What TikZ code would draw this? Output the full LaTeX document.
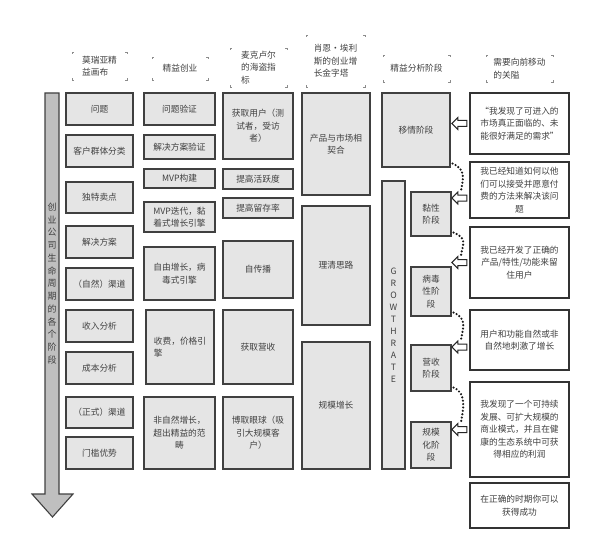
\documentclass[tikz,border=0pt]{standalone}
\usepackage{fontspec}
\setmainfont{Noto Sans CJK SC}
\usetikzlibrary{shapes.arrows}

\begin{document}
\begin{tikzpicture}[x=1pt,y=-1pt,
    cell/.style={draw=black!75,fill=black!10,line width=1.1pt,inner sep=2pt,
      align=center,text=black!75,font=\fontsize{8.7}{12.5}\selectfont},
    gate/.style={cell,fill=white,draw=black!80},
    head/.style={inner sep=0pt,align=left,text=black!75,font=\fontsize{8.7}{12.5}\selectfont},
    head tick/.style={black!45,line width=0.5pt},
    life arrow/.style={draw=black!75,fill=black!25,line width=1.1pt},
    life text/.style={align=center,text=black!75,inner sep=0pt,font=\fontsize{9}{12.75}\selectfont},
    gate arrow/.style={single arrow,draw=black!85,fill=white,line width=1pt,
      minimum height=15pt,minimum width=12pt,inner sep=2.5pt,
      single arrow head extend=3pt,shape border rotate=180,anchor=tail},
    gate dots/.style={black!90,line width=2.4pt,line cap=round,dash pattern=on 0pt off 3.4pt}]

  \useasboundingbox (0,0) rectangle (590,551);

  % Column headers
  \node[head,minimum width=55,minimum height=28] (canvas) at (99.5,66) {莫瑞亚精\\益画布};
  \node[head,minimum width=56,minimum height=23] (lean) at (180,68.5) {精益创业};
  \node[head,minimum width=57,minimum height=39] (pirate) at (258.5,67.5) {麦克卢尔\\的海盗指\\标};
  \node[head,minimum width=59,minimum height=52] (pyramid) at (335.5,61) {肖恩·埃利\\斯的创业增\\长金字塔};
  \node[head,minimum width=67,minimum height=27] (stages) at (416.5,68.5) {精益分析阶段};
  \node[head,minimum width=67,minimum height=27] (gates) at (519.5,68.5) {需要向前移动\\的关隘};
  \foreach \h in {canvas,lean,pirate,pyramid,stages,gates}{
    \draw[head tick] ([xshift=1.8pt]\h.north west) -| ([yshift=-1.8pt]\h.north west);
    \draw[head tick] ([xshift=-1.8pt]\h.north east) -| ([yshift=-1.8pt]\h.north east);
    \draw[head tick] ([xshift=1.8pt]\h.south west) -| ([yshift=1.8pt]\h.south west);
    \draw[head tick] ([xshift=-1.8pt]\h.south east) -| ([yshift=1.8pt]\h.south east);
  }

  % Life cycle arrow
  \draw[life arrow] (45,93) -- (59,93) -- (59,494) -- (73,494) -- (52.5,517)
    -- (32,494) -- (45,494) -- cycle;
  \node[life text] (lifelabel) at (52,283.5)
    {创\\业\\公\\司\\生\\命\\周\\期\\的\\各\\个\\阶\\段};

  % Lean canvas
  \node[cell,minimum width=67,minimum height=32] (problem) at (99.5,109) {问题};
  \node[cell,minimum width=67,minimum height=32] (segments) at (99.5,151) {客户群体分类};
  \node[cell,minimum width=67,minimum height=31] (usp) at (99.5,197.5) {独特卖点};
  \node[cell,minimum width=67,minimum height=32] (solution) at (99.5,242) {解决方案};
  \node[cell,minimum width=67,minimum height=32] (natchannel) at (99.5,284) {（自然）渠道};
  \node[cell,minimum width=67,minimum height=32] (revenue) at (99.5,326) {收入分析};
  \node[cell,minimum width=67,minimum height=32] (cost) at (99.5,368) {成本分析};
  \node[cell,minimum width=67,minimum height=31] (formchannel) at (99.5,412.5) {（正式）渠道};
  \node[cell,minimum width=67,minimum height=32] (advantage) at (99.5,453) {门槛优势};

  % Lean startup
  \node[cell,minimum width=71,minimum height=32] (probval) at (179.5,109) {问题验证};
  \node[cell,minimum width=71,minimum height=24] (solval) at (179.5,147) {解决方案验证};
  \node[cell,minimum width=71,minimum height=19] (mvpbuild) at (179.5,178.5) {MVP构建};
  \node[cell,minimum width=71,minimum height=30] (mvpiter) at (179.5,217) {MVP迭代，黏\\着式增长引擎};
  \node[cell,minimum width=71,minimum height=53] (freegrowth) at (179.5,273.5) {自由增长，病\\毒式引擎};
  \node[cell,minimum width=68,minimum height=74,align=left] (pricing) at (180,347) {收费，价格引\\擎};
  \node[cell,minimum width=71,minimum height=72] (nonlean) at (179.5,433) {非自然增长，\\超出精益的范\\畴};

  % Pirate metrics
  \node[cell,minimum width=70,minimum height=66] (acquisition) at (258,126) {获取用户（测\\试者，受访\\者）};
  \node[cell,minimum width=70,minimum height=20] (activation) at (258,179) {提高活跃度};
  \node[cell,minimum width=70,minimum height=20] (retention) at (258,208) {提高留存率};
  \node[cell,minimum width=70,minimum height=57] (referral) at (258,269.5) {自传播};
  \node[cell,minimum width=70,minimum height=74] (monetize) at (258,347) {获取营收};
  \node[cell,minimum width=70,minimum height=72] (attention) at (258,433) {博取眼球（吸\\引大规模客\\户）};

  % Growth pyramid
  \node[cell,minimum width=68,minimum height=102] (fit) at (336,144) {产品与市场相\\契合};
  \node[cell,minimum width=68,minimum height=119] (clarity) at (336,265.5) {理清思路};
  \node[cell,minimum width=68,minimum height=127] (scale) at (336,405.5) {规模增长};

  % Lean analytics stages
  \node[cell,minimum width=68,minimum height=74] (empathy) at (416,130) {移情阶段};
  \node[cell,minimum width=23,minimum height=288,font=\fontsize{8.7}{12}\selectfont] (growthbar) at (393.5,325)
    {G\\R\\O\\W\\T\\H\\R\\A\\T\\E};
  \node[cell,minimum width=40,minimum height=44] (sticky) at (431,214) {黏性\\阶段};
  \node[cell,minimum width=40,minimum height=49] (viral) at (431,291.5) {病毒\\性阶\\段};
  \node[cell,minimum width=40,minimum height=46] (income) at (431,368) {营收\\阶段};
  \node[cell,minimum width=40,minimum height=46] (scaling) at (431,445) {规模\\化阶\\段};

  % Gates
  \node[gate,minimum width=99,minimum height=61] (g1) at (519.5,123.5) {“我发现了可进入的\\市场真正面临的、未\\能很好满足的需求”};
  \node[gate,minimum width=99,minimum height=56] (g2) at (519.5,190) {我已经知道如何以他\\们可以接受并愿意付\\费的方法来解决该问\\题};
  \node[gate,minimum width=99,minimum height=71] (g3) at (519.5,262.5) {我已经开发了正确的\\产品/特性/功能来留\\住用户};
  \node[gate,minimum width=99,minimum height=60] (g4) at (519.5,340) {用户和功能自然或非\\自然地刺激了增长};
  \node[gate,minimum width=99,minimum height=95] (g5) at (519.5,429.5) {我发现了一个可持续\\发展、可扩大规模的\\商业模式，并且在健\\康的生态系统中可获\\得相应的利润};
  \node[gate,minimum width=99,minimum height=45] (g6) at (519.5,505.5) {在正确的时期你可以\\获得成功};

  % Gate arrows
  \node[gate arrow] (a1) at ([xshift=-2pt]g1.west) {};
  \node[gate arrow] (a2) at ([xshift=-2pt,yshift=-8pt]g2.west) {};
  \node[gate arrow] (a3) at ([xshift=-2pt]g3.west) {};
  \node[gate arrow] (a4) at ([xshift=-2pt,yshift=-7pt]g4.west) {};
  \node[gate arrow] (a5) at ([xshift=-2pt]g5.west) {};

  % Dotted links
  \draw[gate dots] ([xshift=2pt,yshift=4pt]empathy.south east) .. controls +(14,6) and +(2,-12) .. ([yshift=7pt]a2.center);
  \draw[gate dots] ([xshift=2pt,yshift=4pt]sticky.south east) .. controls +(14,6) and +(2,-12) .. ([yshift=7pt]a3.center);
  \draw[gate dots] ([xshift=2pt,yshift=4pt]viral.south east) .. controls +(14,6) and +(2,-12) .. ([yshift=7pt]a4.center);
  \draw[gate dots] ([xshift=2pt,yshift=4pt]income.south east) .. controls +(14,6) and +(2,-12) .. ([yshift=7pt]a5.center);

\end{tikzpicture}
\end{document}
